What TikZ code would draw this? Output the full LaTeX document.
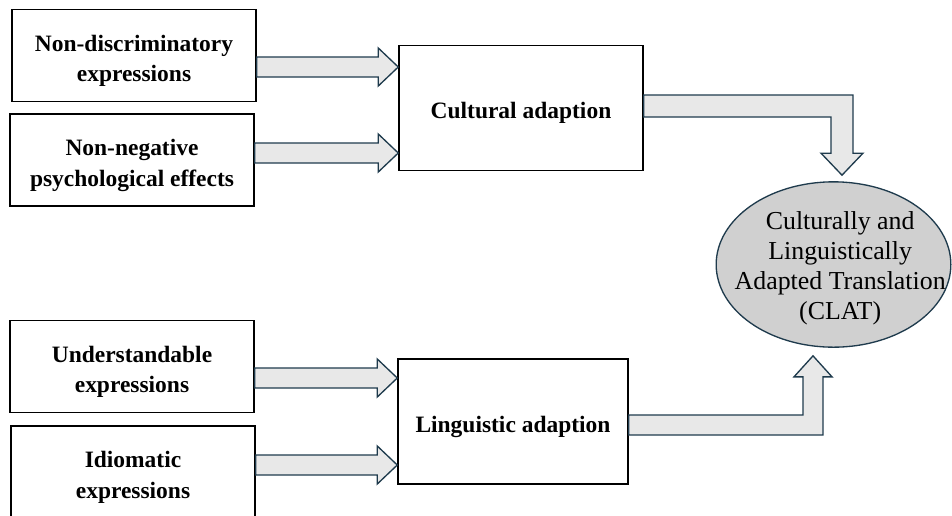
\documentclass[tikz,border=0pt]{standalone}
\usepackage{fontspec}
\setmainfont{Liberation Serif}
\usetikzlibrary{calc,shapes.geometric}
\definecolor{arrowline}{HTML}{1F3B4D}
\definecolor{arrowfill}{HTML}{E8E8E8}
\definecolor{ovalfill}{HTML}{D0D0D0}

% straight block arrow from #1 to its tip #2
\newcommand\hblock[2]{%
  \draw[blockarrow] ($(#1)+(0,-10)$) -- ($(#2)+(-20,-10)$) -- ($(#2)+(-20,-19)$)
    -- (#2) -- ($(#2)+(-20,19)$) -- ($(#2)+(-20,10)$) -- ($(#1)+(0,10)$) -- cycle;}

\begin{document}
\begin{tikzpicture}[x=0.75pt,y=-0.75pt,
  blockarrow/.style={draw=arrowline, fill=arrowfill, line width=1pt, line join=miter},
  boxtext/.style={align=center, inner sep=0pt, font=\fontsize{17.6}{23}\selectfont\bfseries},
  ovaltext/.style={align=center, inner sep=0pt, font=\fontsize{19.4}{22.5}\selectfont},
  factor/.style={draw=black, line width=1.1pt, fill=white, inner sep=0pt,
    minimum width=183pt, minimum height=69pt,
    label={[boxtext, yshift=-4pt]center:#1}},
  stage/.style={factor=#1, minimum height=94pt},
  result/.style={ellipse, draw=arrowline, fill=ovalfill, line width=1pt, inner sep=0pt,
    minimum width=176pt, minimum height=124pt,
    label={[ovaltext, xshift=5pt, yshift=-2.5pt]center:#1}}]
\useasboundingbox (0,0) rectangle (952,515);

% input factors
\node[factor={Non-discriminatory\\expressions}] (f1) at (134,55.5) {};
\node[factor={Non-negative\\psychological effects}] (f2) at (132,160) {};
\node[factor={Understandable\\expressions}] (f3) at (132,366.5) {};
\node[factor={Idiomatic\\expressions}] (f4) at (133,472) {};

% adaptation stages
\node[stage={Cultural adaption}] (cult) at (521,108) {};
\node[stage={Linguistic adaption}, minimum width=172.5pt] (ling) at (513,421.5) {};

% outcome
\node[result={Culturally and\\Linguistically\\Adapted Translation\\(CLAT)}] (clat) at (833.5,264.5) {};

% arrow heights
\coordinate (y1) at (0,67);
\coordinate (y2) at (0,153);
\coordinate (y3) at (0,378);
\coordinate (y4) at (0,465);

\hblock{f1.east |- y1}{cult.west |- y1}
\hblock{f2.east |- y2}{cult.west |- y2}
\hblock{f3.east |- y3}{ling.west |- y3}
\hblock{f4.east |- y4}{ling.west |- y4}

% cultural adaption -> CLAT (right, then down)
\coordinate (ct) at ($(clat.north)+(8.5,-6)$);
\coordinate (cy) at (0,106);
\coordinate (cs) at (cult.east |- cy);
\coordinate (cc) at (ct |- cy);
\draw[blockarrow] ($(cs)+(0,-11)$) -- ($(cc)+(11,-11)$) -- ($(ct)+(11,-22)$)
  -- ($(ct)+(21,-22)$) -- (ct) -- ($(ct)+(-21,-22)$) -- ($(ct)+(-11,-22)$)
  -- ($(cc)+(-11,11)$) -- ($(cs)+(0,11)$) -- cycle;

% linguistic adaption -> CLAT (right, then up)
\coordinate (lt) at ($(clat.south)+(-20.5,8)$);
\coordinate (ly) at (0,425);
\coordinate (ls) at (ling.east |- ly);
\coordinate (lc) at (lt |- ly);
\draw[blockarrow] ($(ls)+(0,10)$) -- ($(lc)+(10,10)$) -- ($(lt)+(10,21)$)
  -- ($(lt)+(19,21)$) -- (lt) -- ($(lt)+(-19,21)$) -- ($(lt)+(-10,21)$)
  -- ($(lc)+(-10,-10)$) -- ($(ls)+(0,-10)$) -- cycle;
\end{tikzpicture}
\end{document}
